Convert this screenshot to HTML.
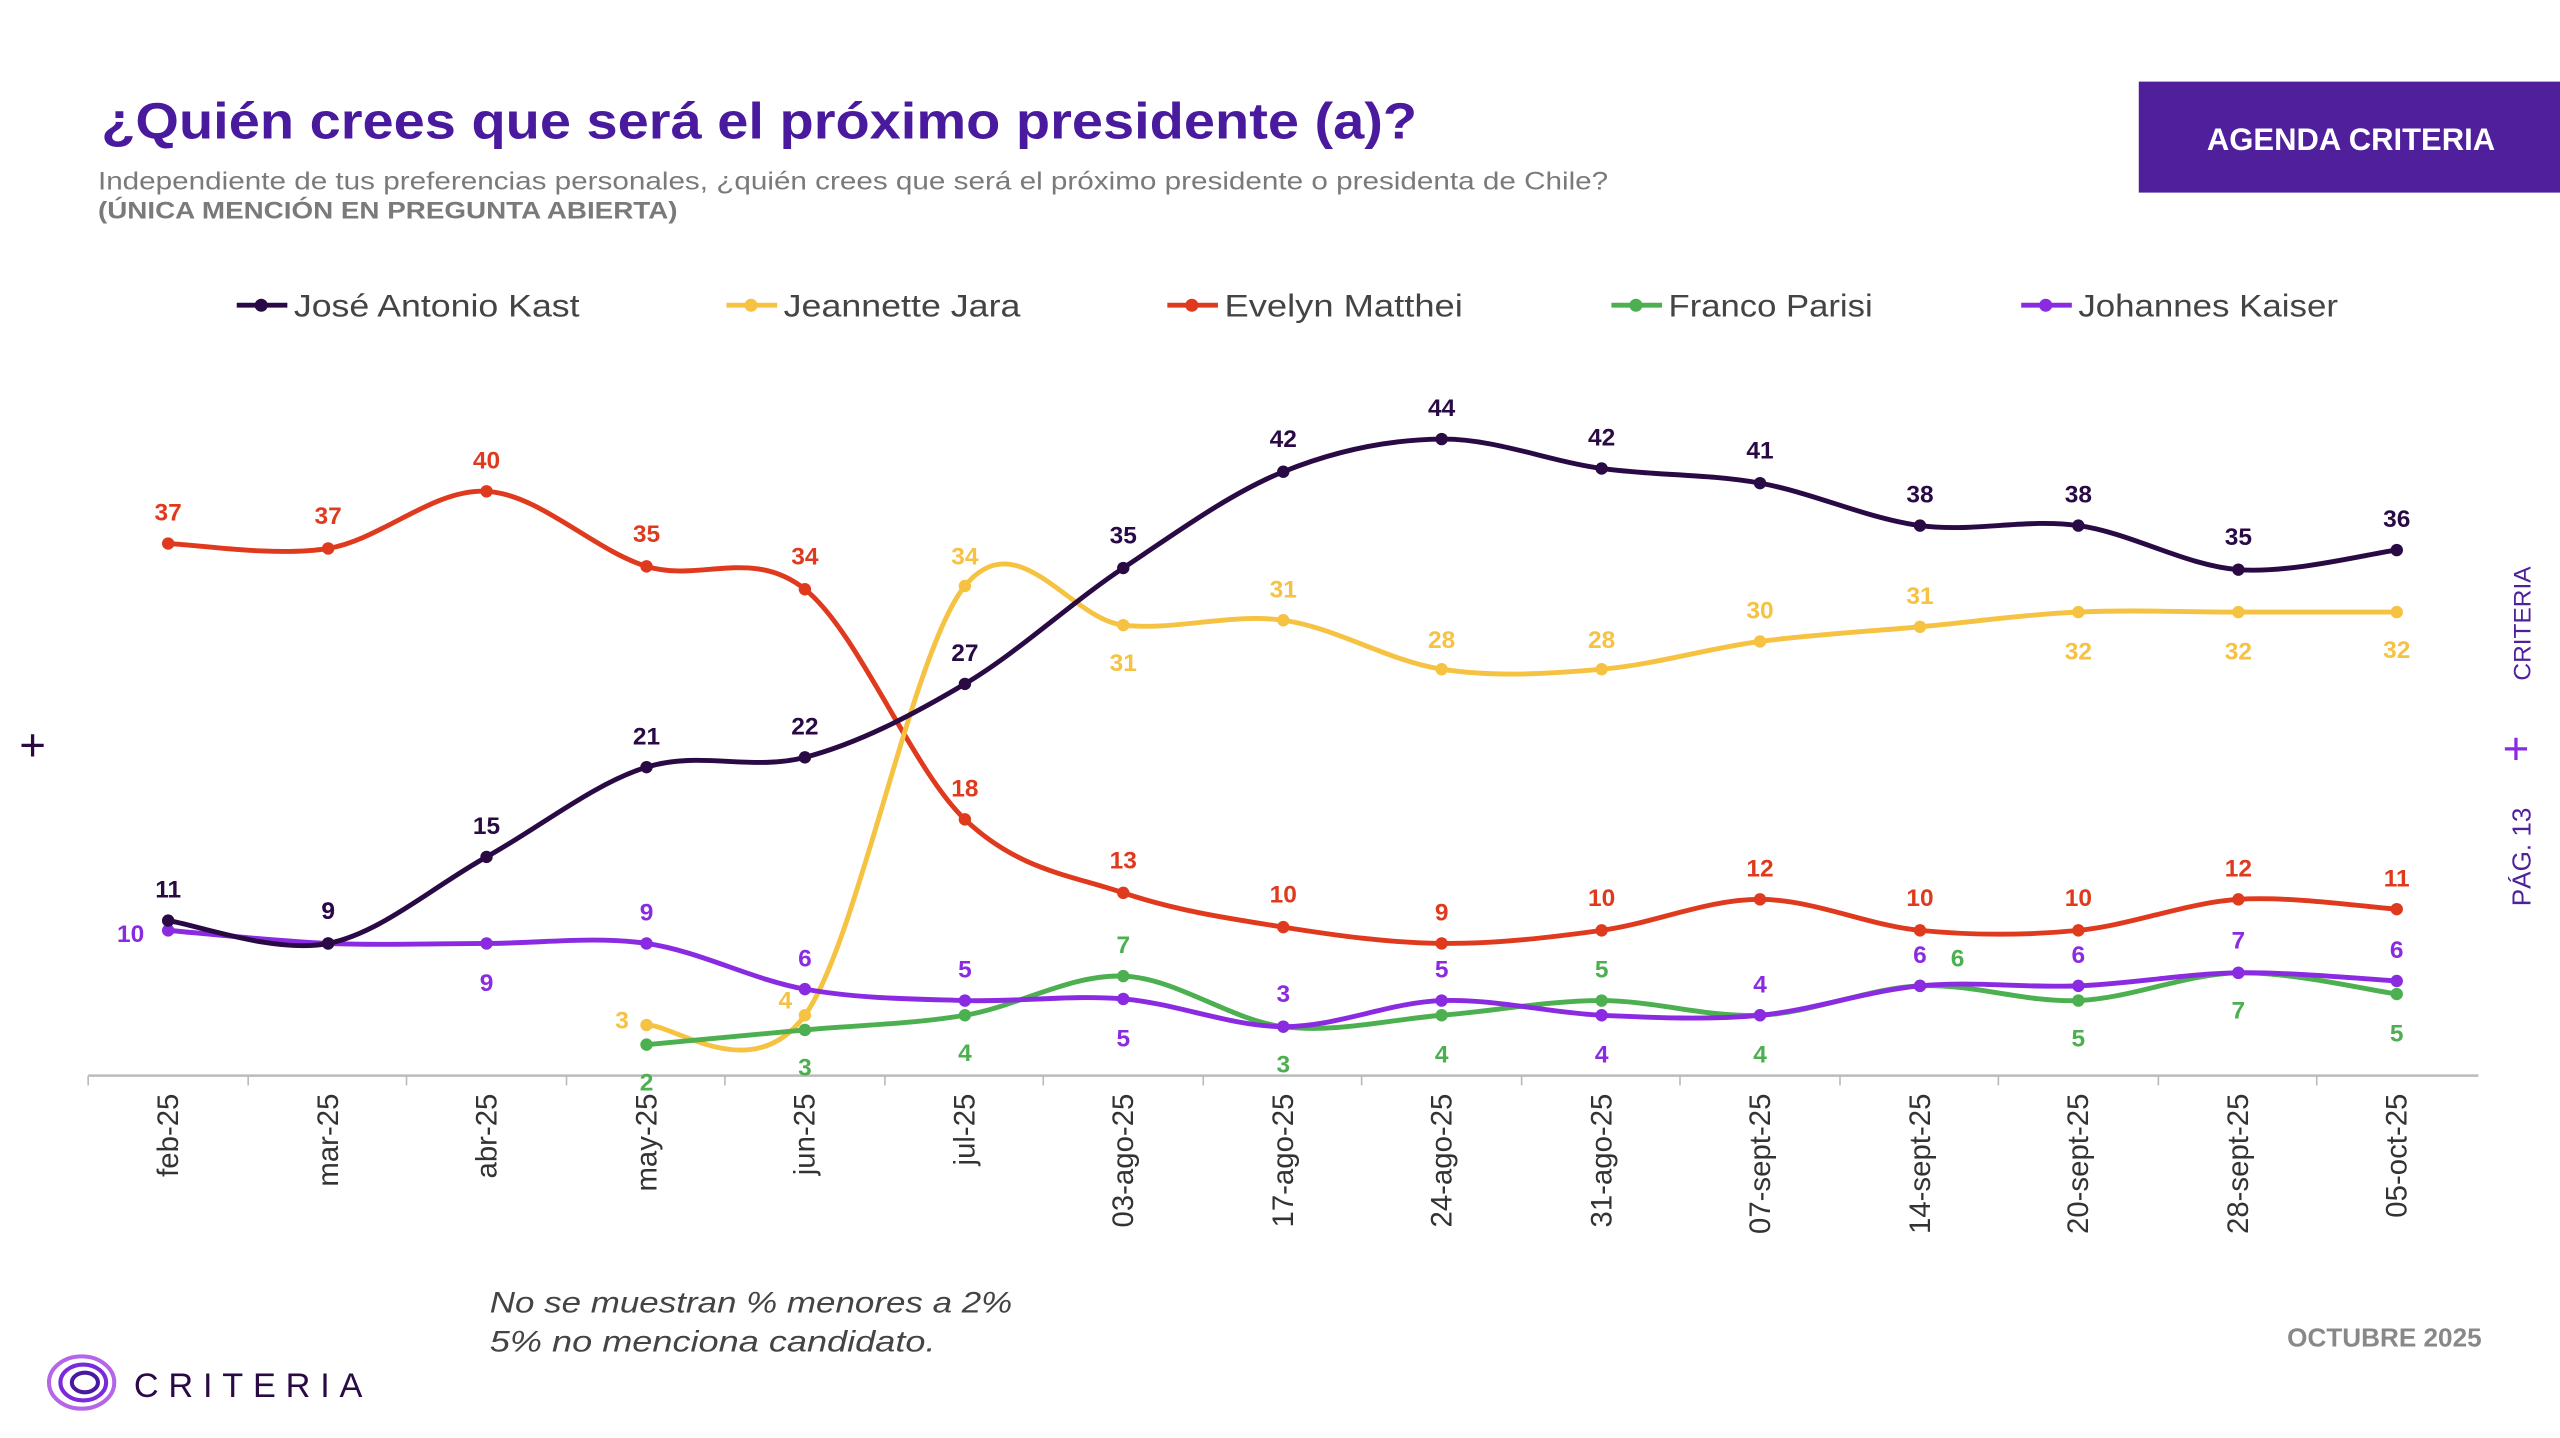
<!DOCTYPE html>
<html><head><meta charset="utf-8"><style>
html,body{margin:0;padding:0;background:#fff;}
svg{display:block;font-family:"Liberation Sans",sans-serif;}
</style></head><body>
<svg id="s" width="2560" height="1438" viewBox="0 0 1568 881" preserveAspectRatio="none" xmlns="http://www.w3.org/2000/svg">
<rect width="1568" height="881" fill="#fff"/>
<text x="62" y="85" font-size="31" font-weight="bold" fill="#4a1a9e" textLength="806" lengthAdjust="spacingAndGlyphs">¿Quién crees que será el próximo presidente (a)?</text>
<text x="60" y="116" font-size="15.5" fill="#7a7a7a" textLength="925" lengthAdjust="spacingAndGlyphs">Independiente de tus preferencias personales, ¿quién crees que será el próximo presidente o presidenta de Chile?</text>
<text x="60" y="134" font-size="15" font-weight="bold" fill="#7a7a7a" textLength="355" lengthAdjust="spacingAndGlyphs">(ÚNICA MENCIÓN EN PREGUNTA ABIERTA)</text>
<rect x="1310" y="50" width="258" height="68" fill="#4f1f9c"/>
<text x="1440" y="92" font-size="19" font-weight="bold" fill="#fff" text-anchor="middle">AGENDA CRITERIA</text>
<g font-size="19" fill="#444">
<line x1="145" y1="187" x2="176" y2="187" stroke="#2a0a45" stroke-width="3"/><circle cx="160" cy="187" r="4" fill="#2a0a45"/><text x="180" y="194" textLength="175" lengthAdjust="spacingAndGlyphs">José Antonio Kast</text>
<line x1="445" y1="187" x2="476" y2="187" stroke="#f5c242" stroke-width="3"/><circle cx="460" cy="187" r="4" fill="#f5c242"/><text x="480" y="194" textLength="145" lengthAdjust="spacingAndGlyphs">Jeannette Jara</text>
<line x1="715" y1="187" x2="746" y2="187" stroke="#e03a1e" stroke-width="3"/><circle cx="730" cy="187" r="4" fill="#e03a1e"/><text x="750" y="194" textLength="146" lengthAdjust="spacingAndGlyphs">Evelyn Matthei</text>
<line x1="987" y1="187" x2="1018" y2="187" stroke="#4caf50" stroke-width="3"/><circle cx="1002" cy="187" r="4" fill="#4caf50"/><text x="1022" y="194" textLength="125" lengthAdjust="spacingAndGlyphs">Franco Parisi</text>
<line x1="1238" y1="187" x2="1269" y2="187" stroke="#8a2be2" stroke-width="3"/><circle cx="1253" cy="187" r="4" fill="#8a2be2"/><text x="1273" y="194" textLength="159" lengthAdjust="spacingAndGlyphs">Johannes Kaiser</text>
</g>
<line x1="54" y1="659" x2="1518" y2="659" stroke="#bbb" stroke-width="1.5"/>
<g id="ticks"></g>
<g id="lines"></g>
<g id="labels" font-size="15" font-weight="bold" text-anchor="middle"></g>
<text x="20" y="466" font-size="28" fill="#2a0a45" text-anchor="middle">+</text>
<text x="1541" y="468" font-size="28" fill="#8a2be2" text-anchor="middle">+</text>
<text transform="translate(1550,382) rotate(-90)" font-size="15" fill="#4f1f9c" text-anchor="middle">CRITERIA</text>
<text transform="translate(1550,525) rotate(-90)" font-size="16" fill="#4f1f9c" text-anchor="middle">PÁG. 13</text>
<text x="300" y="804" font-size="18" font-style="italic" fill="#444" textLength="320" lengthAdjust="spacingAndGlyphs">No se muestran % menores a 2%</text>
<text x="300" y="828" font-size="18" font-style="italic" fill="#444" textLength="273" lengthAdjust="spacingAndGlyphs">5% no menciona candidato.</text>
<text x="1520" y="825" font-size="16" font-weight="bold" fill="#888" text-anchor="end">OCTUBRE 2025</text>
<ellipse cx="50" cy="847" rx="20" ry="16" fill="none" stroke="#b565e8" stroke-width="2.5"/>
<ellipse cx="51" cy="847" rx="14" ry="11" fill="none" stroke="#7a2ad8" stroke-width="2.5"/>
<ellipse cx="52" cy="847" rx="8" ry="6" fill="none" stroke="#4a1a9e" stroke-width="2.5"/>
<text x="82" y="856" font-size="21" fill="#2a0a45" letter-spacing="6">CRITERIA</text>
</svg>
<script>
var NS="http://www.w3.org/2000/svg";
var X=[103,201,298,396,493,591,688,786,883,981,1078,1176,1273,1371,1468];
var T=["feb-25","mar-25","abr-25","may-25","jun-25","jul-25","03-ago-25","17-ago-25","24-ago-25","31-ago-25","07-sept-25","14-sept-25","20-sept-25","28-sept-25","05-oct-25"];
function el(p,n,a,t){var e=document.createElementNS(NS,n);for(var k in a)e.setAttribute(k,a[k]);if(t!=null)e.textContent=t;document.getElementById(p).appendChild(e);return e;}
T.forEach(function(t,i){el("ticks","line",{x1:X[i]-49,y1:659,x2:X[i]-49,y2:665,stroke:"#bbb"});
el("ticks","text",{transform:"translate("+(X[i]+6)+",670) rotate(-90)","font-size":"18","fill":"#333","text-anchor":"end"},t);});
var S=[
{c:"#e03a1e",s:0,y:[333,336,301,347,361,502,547,568,578,570,551,570,570,551,557],
 l:[[37,103,319],[37,201,321],[40,298,287],[35,396,332],[34,493,346],[18,591,488],[13,688,532],[10,786,553],[9,883,564],[10,981,555],[12,1078,537],[10,1176,555],[10,1273,555],[12,1371,537],[11,1468,543]]},
{c:"#f5c242",s:3,y:[628,622,359,383,380,410,410,393,384,375,375,375],
 l:[[3,381,630],[4,481,618],[34,591,346],[31,688,411],[31,786,366],[28,883,397],[28,981,397],[30,1078,379],[31,1176,370],[32,1273,404],[32,1371,404],[32,1468,403]]},
{c:"#4caf50",s:3,y:[640,631,622,598,629,622,613,622,604,613,596,609],
 l:[[2,396,668],[3,493,659],[4,591,650],[7,688,584],[3,786,657],[4,883,651],[5,981,599],[4,1078,651],[6,1199,592],[5,1273,641],[7,1371,624],[5,1468,638]]},
{c:"#8a2be2",s:0,y:[570,578,578,578,606,613,612,629,613,622,622,604,604,596,601],
 l:[[10,80,577],[9,201,563],[9,298,607],[9,396,564],[6,493,592],[5,591,599],[5,688,641],[3,786,614],[5,883,599],[4,981,651],[4,1078,608],[6,1176,590],[6,1273,590],[7,1371,581],[6,1468,587]]},
{c:"#2a0a45",s:0,y:[564,578,525,470,464,419,348,289,269,287,296,322,322,349,337],
 l:[[11,103,550],[9,201,563],[15,298,511],[21,396,456],[22,493,450],[27,591,405],[35,688,333],[42,786,274],[44,883,255],[42,981,273],[41,1078,281],[38,1176,308],[38,1273,308],[35,1371,334],[36,1468,323]]}
];
S.forEach(function(s){
 var P=s.y.map(function(y,i){return [X[i+s.s],y];});
 var d="M"+P[0][0]+","+P[0][1];
 for(var i=0;i<P.length-1;i++){var p0=P[i-1]||P[i],p1=P[i],p2=P[i+1],p3=P[i+2]||p2;
  d+=" C"+(p1[0]+(p2[0]-p0[0])/6)+","+(p1[1]+(p2[1]-p0[1])/6)+" "+(p2[0]-(p3[0]-p1[0])/6)+","+(p2[1]-(p3[1]-p1[1])/6)+" "+p2[0]+","+p2[1];}
 el("lines","path",{d:d,fill:"none",stroke:s.c,"stroke-width":"3"});
 P.forEach(function(p){el("lines","circle",{cx:p[0],cy:p[1],r:"3.8",fill:s.c});});
 s.l.forEach(function(l){el("labels","text",{x:l[1],y:l[2],fill:s.c},l[0]);});
});
</script>
</body></html>
